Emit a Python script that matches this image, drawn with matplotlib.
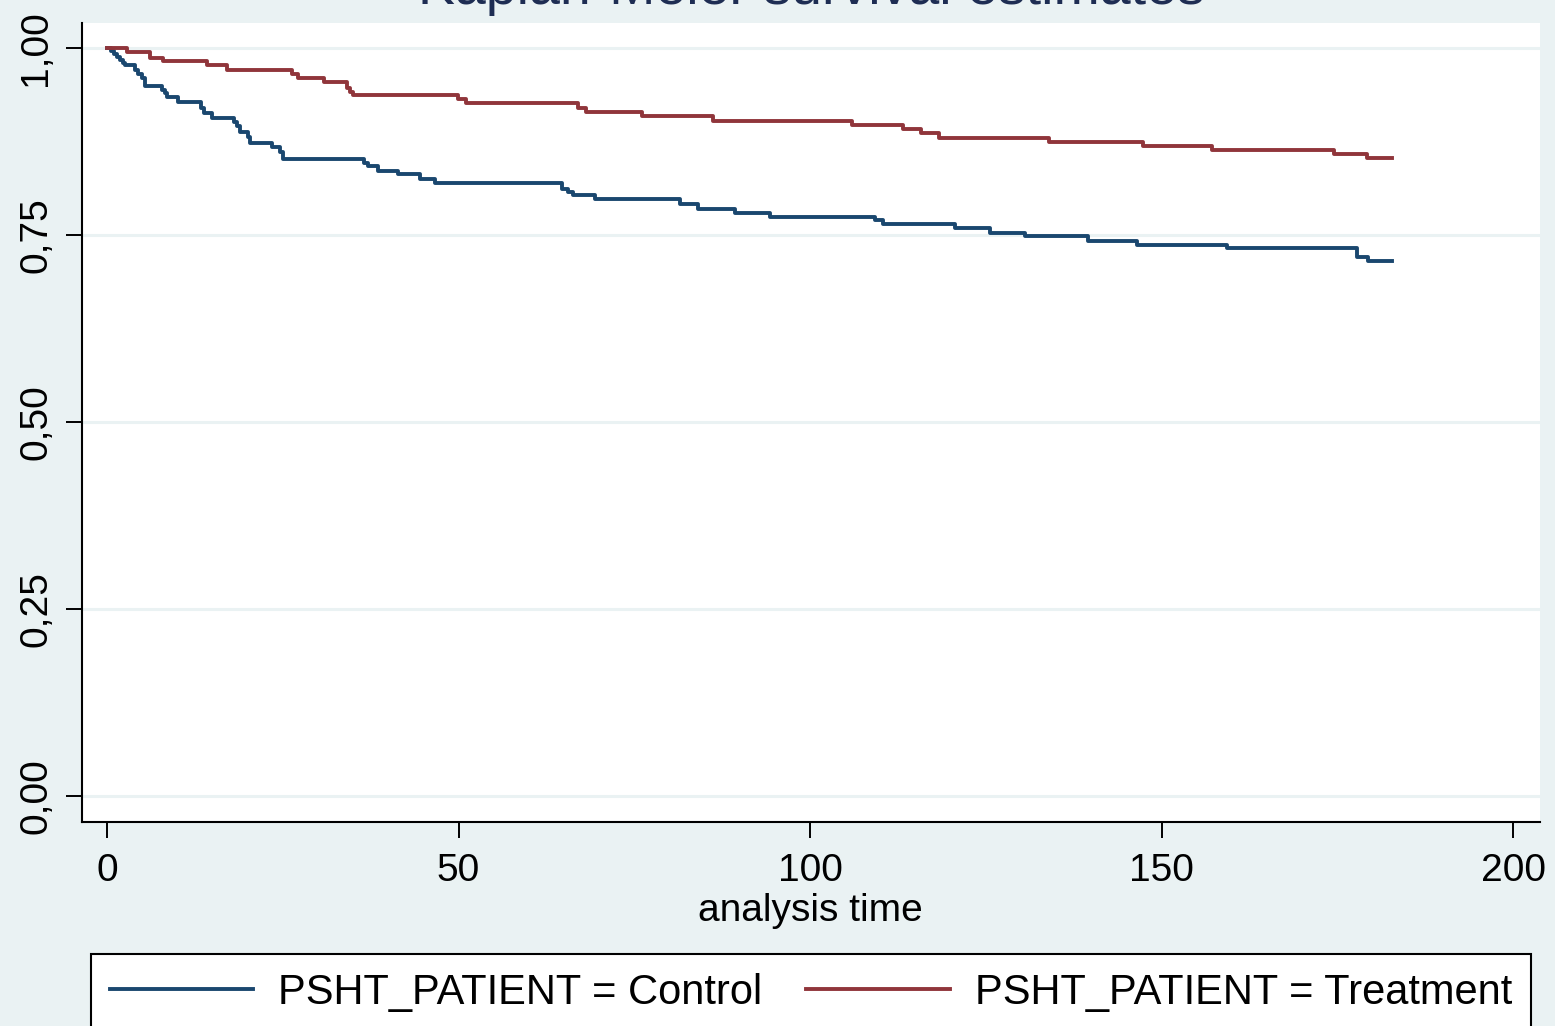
import matplotlib.pyplot as plt
from matplotlib.lines import Line2D

plt.rcParams["font.family"] = ["Liberation Sans", "DejaVu Sans"]

# Kaplan-Meier step data (time, survival)
control_time = [0, 0.6, 1.0, 1.4, 1.85, 2.3, 2.6, 4.0, 4.4, 5.0, 5.4, 7.8, 8.3, 8.5,
                10.1, 13.4, 13.8, 14.9, 18.1, 18.5, 18.9, 20.1, 20.3, 23.5, 24.6, 25.0,
                36.6, 37.1, 38.5, 41.4, 44.5, 46.7, 64.7, 65.6, 66.3, 69.4, 81.5, 84.1,
                89.3, 94.3, 109.2, 110.4, 120.6, 125.6, 130.6, 139.5, 146.5, 159.3,
                177.8, 179.4, 182.8]
control_surv = [1.0, 0.996, 0.992, 0.988, 0.984, 0.980, 0.977, 0.971, 0.965, 0.960, 0.949,
                0.944, 0.940, 0.934, 0.928, 0.920, 0.913, 0.906, 0.901, 0.896, 0.888,
                0.881, 0.873, 0.867, 0.861, 0.852, 0.846, 0.842, 0.836, 0.831, 0.825,
                0.819, 0.811, 0.807, 0.803, 0.798, 0.792, 0.785, 0.780, 0.774, 0.770,
                0.765, 0.759, 0.753, 0.748, 0.742, 0.737, 0.732, 0.720, 0.715, 0.715]

treat_time = [0, 2.8, 6.1, 8.0, 14.2, 17.1, 26.3, 27.2, 30.9, 34.1, 34.5, 35.0, 49.9,
              51.1, 67.0, 68.1, 76.1, 86.2, 106.0, 113.2, 115.8, 118.3, 134.0, 147.4,
              157.2, 174.5, 179.2, 182.8]
treat_surv = [1.0, 0.994, 0.987, 0.982, 0.977, 0.970, 0.965, 0.960, 0.954, 0.947, 0.941,
              0.937, 0.932, 0.926, 0.920, 0.914, 0.909, 0.903, 0.897, 0.892, 0.886,
              0.879, 0.874, 0.869, 0.864, 0.858, 0.853, 0.853]

x_ticks = [0, 50, 100, 150, 200]
y_ticks = [0.0, 0.25, 0.5, 0.75, 1.0]
y_tick_labels = ["0,00", "0,25", "0,50", "0,75", "1,00"]

BG = "#EAF2F3"
NAVY = "#1A476F"
MAROON = "#90353B"

W, H = 1555, 1026
fig = plt.figure(figsize=(W / 100, H / 100), dpi=100, facecolor=BG)
ax = fig.add_axes([81.5 / W, (H - 822) / H, (1540 - 81.5) / W, (822 - 23) / H])
ax.set_facecolor("white")

for v in y_ticks:
    ax.axhline(v, color=BG, lw=2.2, zorder=1)

ax.step(control_time, control_surv, where="post", color=NAVY, lw=2.8, zorder=3)
ax.step(treat_time, treat_surv, where="post", color=MAROON, lw=2.8, zorder=3)

ax.set_xlim(-3.63, 203.8)
ax.set_ylim(-0.0348, 1.0334)

ax.set_xticks(x_ticks)
ax.set_yticks(y_ticks)
ax.set_yticklabels(y_tick_labels, rotation=90, va="center")
ax.tick_params(axis="both", direction="out", length=11.5, width=1.4, labelsize=28,
               colors="black")
ax.tick_params(axis="x", pad=11)
ax.tick_params(axis="y", pad=8)

for s in ["top", "right"]:
    ax.spines[s].set_visible(False)
for s in ["left", "bottom"]:
    ax.spines[s].set_linewidth(1.5)
    ax.spines[s].set_color("black")

ax.set_xlabel("analysis time", fontsize=28, labelpad=3)

fig.text(811 / W, 1 - 4 / H, "Kaplan-Meier survival estimates", ha="center",
         va="baseline", fontsize=40, color="#1E2D53")

handles = [Line2D([], [], color=NAVY, lw=2.8), Line2D([], [], color=MAROON, lw=2.8)]
leg = fig.legend(handles, ["PSHT_PATIENT = Control", "PSHT_PATIENT = Treatment"],
                 loc="center", bbox_to_anchor=(811 / W, 1 - 993 / H), ncol=2,
                 fontsize=30, frameon=True, fancybox=False, handlelength=3.45,
                 handletextpad=0.6, columnspacing=1.05, borderpad=0.45)
leg.get_frame().set_edgecolor("black")
leg.get_frame().set_linewidth(1.5)
leg.get_frame().set_facecolor("white")
leg.get_frame().set_alpha(1)

fig.savefig("out.png", dpi=100, facecolor=BG)
